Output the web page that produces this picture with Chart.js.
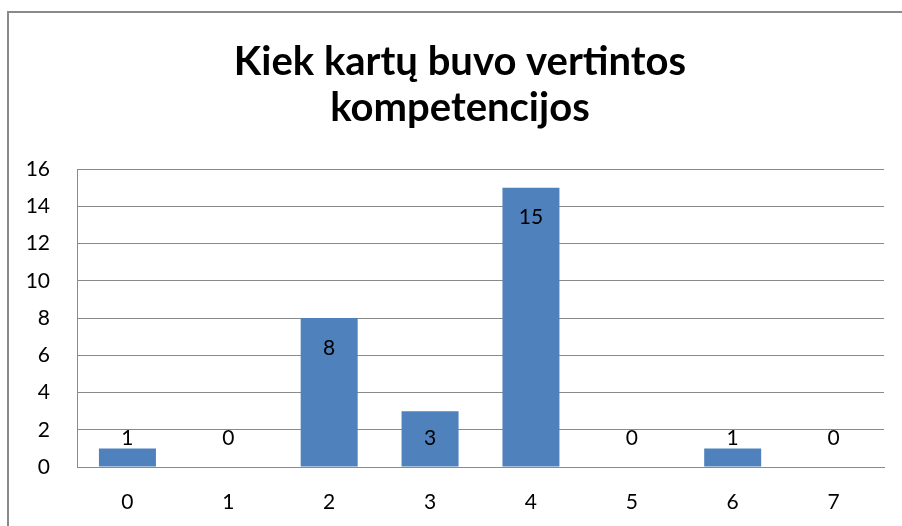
<!DOCTYPE html>
<html>
<head>
<meta charset="utf-8">
<script src="https://cdn.jsdelivr.net/npm/chart.js@4/dist/chart.umd.min.js"></script>
<style>
  body { margin: 0; background: #fff; }
  #wrap { width: 902px; height: 526px; position: relative; }
</style>
</head>
<body>
<div id="wrap"><canvas id="chart" width="902" height="526"></canvas></div>
<script>
// data
var categories = ['0', '1', '2', '3', '4', '5', '6', '7'];
var counts = [1, 0, 8, 3, 15, 0, 1, 0];
var titleLines = ['Kiek kartų buvo vertintos', 'kompetencijos'];

var FONT = "Lato, 'Open Sans', sans-serif";

// outer frame like the office chart border
var framePlugin = {
    id: 'frame',
    beforeDraw: function(chart) {
        var ctx = chart.ctx;
        ctx.save();
        ctx.strokeStyle = '#8a8a8a';
        ctx.lineWidth = 2;
        ctx.strokeRect(8, 12, 1000, 1000);
        ctx.restore();
    },
    // the original title sits a bit right of the canvas centre
    afterLayout: function(chart) {
        if (chart.titleBlock) chart.titleBlock.left = 36;
    }
};

// value labels: inside near the top for tall bars, just above the axis for small ones
var valueLabels = {
    id: 'valueLabels',
    afterDatasetsDraw: function(chart) {
        var ctx = chart.ctx;
        var meta = chart.getDatasetMeta(0);
        var base = chart.scales.y.getPixelForValue(0);
        ctx.save();
        ctx.font = '21px ' + FONT;
        ctx.fillStyle = '#000';
        ctx.textAlign = 'center';
        ctx.textBaseline = 'middle';
        meta.data.forEach(function(bar, i) {
            var y = Math.min(bar.y + 30, base - 29);
            ctx.fillText(String(counts[i]), bar.x, y);
        });
        ctx.restore();
    }
};

var ctx = document.getElementById('chart');
var myChart = new Chart(ctx, {
    type: 'bar',
    data: {
        labels: categories,
        datasets: [{
            data: counts,
            backgroundColor: '#4F81BD',
            borderWidth: 0,
            categoryPercentage: 1,
            barPercentage: 0.565
        }]
    },
    options: {
        responsive: false,
        animation: false,
        layout: { padding: { left: 0, right: 18, top: 0, bottom: 0 } },
        plugins: {
            legend: { display: false },
            tooltip: { enabled: false },
            title: {
                display: true,
                text: titleLines,
                color: '#000',
                font: { family: FONT, size: 40, weight: 'bold', lineHeight: 1.15 },
                padding: { top: 39, bottom: 38 }
            }
        },
        scales: {
            x: {
                afterFit: function(scale) { scale.height = 59; },
                grid: { display: false, drawTicks: false },
                border: { display: true, color: '#8a8a8a', width: 1 },
                ticks: { color: '#000', font: { family: FONT, size: 21 }, padding: 23 }
            },
            y: {
                min: 0,
                max: 16,
                afterFit: function(scale) { scale.width = 77; },
                grid: { color: '#8a8a8a', drawTicks: false, lineWidth: 1 },
                border: { display: true, color: '#8a8a8a', width: 1 },
                ticks: { stepSize: 2, color: '#000', font: { family: FONT, size: 21 }, padding: 27 }
            }
        }
    },
    plugins: [framePlugin, valueLabels]
});
</script>
</body>
</html>
